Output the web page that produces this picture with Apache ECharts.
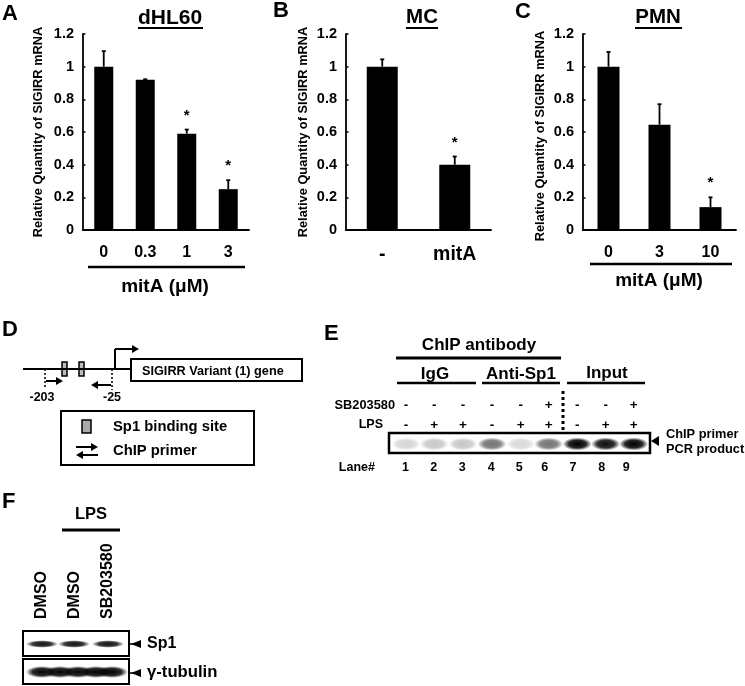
<!DOCTYPE html>
<html>
<head>
<meta charset="utf-8">
<style>html,body{margin:0;padding:0;background:#fff}#c{width:745px;height:686px}</style>
<script src="https://cdn.jsdelivr.net/npm/echarts@6/dist/echarts.min.js"></script>
</head>
<body>
<div id="c"></div>
<script>
// ---- chart values ----
const catsA = ['0', '0.3', '1', '3'];
const valsA = [1.0, 0.92, 0.59, 0.25];
const errsA = [0.095, 0.003, 0.025, 0.055];
const starsA = [0, 0, 1, 1];

const catsB = ['-', 'mitA'];
const valsB = [1.0, 0.4];
const errsB = [0.045, 0.05];
const starsB = [0, 1];

const catsC = ['0', '3', '10'];
const valsC = [1.0, 0.645, 0.14];
const errsC = [0.09, 0.125, 0.06];
const starsC = [0, 0, 1];

const yTicks = [0, 0.2, 0.4, 0.6, 0.8, 1, 1.2];
const yName = 'Relative Quantity of SIGIRR mRNA';

// ---- gel panel content ----
const sbSigns = ['-', '-', '-', '-', '-', '+', '-', '-', '+'];
const lpsSigns = ['-', '+', '+', '-', '+', '+', '-', '+', '+'];
const laneNames = ['1', '2', '3', '4', '5', '6', '7', '8', '9'];
const gelStrength = [0.16, 0.22, 0.22, 0.55, 0.15, 0.55, 1, 0.95, 1];
const blotLabels = ['DMSO', 'DMSO', 'SB203580'];

const FF = '"Liberation Sans", Arial, sans-serif';
const panels = [
  {cats: catsA, vals: valsA, errs: errsA, stars: starsA, left: 83, right: 249, gap: 38, lab: 16, bw: 19, pad: [0, 0, 0, 0]},
  {cats: catsB, vals: valsB, errs: errsB, stars: starsB, left: 346, right: 491, gap: 36, lab: 19.5, bw: 31, pad: [0, 0, 0, 0]},
  {cats: catsC, vals: valsC, errs: errsC, stars: starsC, left: 583, right: 736, gap: 36, lab: 16, bw: 22, pad: [0, 8, 0, 0]}
];

const grid = [], xAxis = [], yAxis = [], series = [];
panels.forEach((p, i) => {
  grid.push({left: p.left, width: p.right - p.left, top: 34, height: 196});
  xAxis.push({
    type: 'category', gridIndex: i, data: p.cats,
    axisLine: {lineStyle: {color: '#000', width: 1.8}},
    axisTick: {inside: true, length: 3, lineStyle: {color: '#000', width: 1.5}},
    axisLabel: {color: '#000', fontFamily: FF, fontWeight: 'bold', fontSize: p.lab, margin: 15, interval: 0}
  });
  yAxis.push({
    type: 'value', gridIndex: i, min: 0, max: 1.2, interval: 0.2,
    name: yName, nameLocation: 'middle', nameRotate: 90, nameGap: p.gap,
    nameTextStyle: {color: '#000', fontFamily: FF, fontWeight: 'bold', fontSize: 12.8, padding: p.pad},
    axisLine: {show: true, lineStyle: {color: '#000', width: 1.8}},
    axisTick: {show: true, inside: true, length: 2.5, lineStyle: {color: '#000', width: 1.5}},
    axisLabel: {color: '#000', fontFamily: FF, fontWeight: 'bold', fontSize: 14.5, margin: 9},
    splitLine: {show: false}
  });
  series.push({
    type: 'bar', xAxisIndex: i, yAxisIndex: i, data: p.vals, barWidth: p.bw,
    itemStyle: {color: '#000'}, silent: true, animation: false
  });
  series.push({
    type: 'custom', xAxisIndex: i, yAxisIndex: i, silent: true, animation: false,
    data: p.vals.map((v, k) => [k, v, p.errs[k], p.stars[k]]),
    encode: {x: 0, y: 1},
    renderItem: (params, api) => {
      const base = api.coord([api.value(0), api.value(1)]);
      const top = api.coord([api.value(0), api.value(1) + api.value(2)]);
      const children = [
        {type: 'line', shape: {x1: base[0], y1: base[1], x2: top[0], y2: top[1]}, style: {stroke: '#000', lineWidth: 1.8}},
        {type: 'line', shape: {x1: top[0] - 2, y1: top[1], x2: top[0] + 2, y2: top[1]}, style: {stroke: '#000', lineWidth: 1.8}}
      ];
      if (api.value(3)) {
        children.push({type: 'text', x: top[0], y: top[1] - 14,
          style: {text: '*', font: 'bold 15px ' + FF, align: 'center', verticalAlign: 'middle', fill: '#000'}});
      }
      return {type: 'group', children};
    }
  });
});

// ---- annotation helpers ----
const G = [];
function T(text, x, y, size, align, rot) {
  G.push({type: 'text', x, y, rotation: rot || 0, z: 10,
    style: {text, font: 'bold ' + size + 'px ' + FF, align: align || 'center', verticalAlign: 'middle', fill: '#000'}});
}
function L(x1, y1, x2, y2, w, dash) {
  G.push({type: 'line', z: 5, shape: {x1, y1, x2, y2}, style: {stroke: '#000', lineWidth: w || 1.5, lineDash: dash || null}});
}
function R(x, y, w, h, lw, fill) {
  G.push({type: 'rect', z: 4, shape: {x, y, width: w, height: h}, style: {stroke: '#000', lineWidth: lw, fill: fill || '#fff'}});
}
function Tri(p) { G.push({type: 'polygon', z: 6, shape: {points: p}, style: {fill: '#000'}}); }
function arrow(x1, x2, y, w) {
  const d = x2 > x1 ? 1 : -1;
  L(x1, y, x2 - d * 5, y, w || 2);
  Tri([[x2, y], [x2 - d * 7, y - 4], [x2 - d * 7, y + 4]]);
}
function band(cx, cy, rx, ry, dark) {
  const c = Math.round(255 * (1 - dark));
  G.push({type: 'circle', z: 5, x: cx, y: cy, scaleX: rx / ry, shape: {cx: 0, cy: 0, r: ry}, silent: true, style: {
    fill: new echarts.graphic.RadialGradient(0.5, 0.5, 0.5, [
      {offset: 0, color: `rgb(${c},${c},${c})`},
      {offset: 0.6, color: `rgba(${c},${c},${c},0.85)`},
      {offset: 1, color: `rgba(${c},${c},${c},0)`}
    ])}});
}

// panel letters
T('A', 2, 14, 22, 'left'); T('B', 273, 11, 22, 'left'); T('C', 515, 12, 22, 'left');
T('D', 2, 330, 22, 'left'); T('E', 324, 334, 22, 'left'); T('F', 2, 502, 22, 'left');

// bar panel titles
T('dHL60', 170, 18, 21); L(138, 28, 203, 28, 2);
T('MC', 422, 17, 20.5); L(406, 28, 438, 28, 2);
T('PMN', 658, 17, 20.5); L(635, 28, 682, 28, 2);
L(88, 267, 245, 267, 2.5); T('mitA (μM)', 165, 287, 19);
L(590, 264, 732, 264, 2.5); T('mitA (μM)', 659, 281, 19);

// D: gene diagram
L(23, 369, 131, 369, 2);
R(131, 359, 171, 22, 2);
T('SIGIRR Variant (1) gene', 142, 371, 12.7, 'left');
R(62, 362, 5, 14, 1.5, '#bbb'); R(79, 362, 5, 14, 1.5, '#bbb');
L(115, 369, 115, 349, 2); arrow(115, 139, 349, 2);
L(45, 369, 45, 388, 1.5, [2, 2]); L(112, 369, 112, 390, 1.5, [2, 2]);
arrow(46, 63, 381); arrow(111, 91, 385);
T('-203', 42, 398, 12.5); T('-25', 112, 398, 12.5);
R(61, 411, 193, 54, 2);
R(82, 420, 9, 13, 1.5, '#aaa');
T('Sp1 binding site', 113, 427, 14.8, 'left');
T('ChIP primer', 113, 451, 14.8, 'left');
arrow(76, 98, 447); arrow(98, 76, 455);

// E: ChIP gel
T('ChIP antibody', 479, 345, 17); L(396, 358, 561, 358, 3);
T('IgG', 435, 374, 17); L(397, 383, 476, 383, 2.5);
T('Anti-Sp1', 521, 374, 17); L(482, 383, 560, 383, 2.5);
T('Input', 607, 373, 17); L(567, 383, 645, 383, 2.5);
L(563, 391, 563, 433, 3, [3, 3]);
T('SB203580', 395, 405, 12.8, 'right');
T('LPS', 383, 425, 12.5, 'right');
T('Lane#', 375, 468, 12.5, 'right');
const laneX = [406, 434.3, 463, 492, 520.7, 548.7, 577.3, 605.7, 633.7];
const laneNumX = [405.5, 433.7, 462.3, 491.3, 519.3, 544.7, 573, 601.7, 626.3];
R(389, 433, 261, 20, 2.5);
laneX.forEach((x, i) => {
  T(sbSigns[i], x, 405, 13.5);
  T(lpsSigns[i], x, 425, 13.5);
  T(laneNames[i], laneNumX[i], 468, 12.5);
  band(x, 444, 14.5, 6.5, gelStrength[i]);
});
Tri([[651, 441], [659, 436], [659, 446]]);
T('ChIP primer', 666, 434, 12.8, 'left');
T('PCR product', 666, 449, 12.8, 'left');

// F: western blot
T('LPS', 91, 514, 16.5); L(62, 530, 120, 530, 3);
[42, 75, 108].forEach((x, i) => T(blotLabels[i], x, 619, 16, 'left', Math.PI / 2));
R(23, 631, 106, 25, 2); R(23, 659, 106, 25, 2);
[42, 74, 108].forEach(x => band(x, 644, 16, 3.8, 0.92));
[42, 60, 78, 96, 112].forEach(x => band(x, 672, 16, 6, 0.98));
[644, 673].forEach(y => {
  L(129, y, 134, y, 1.5);
  Tri([[131, y], [141, y - 4], [141, y + 4]]);
});
T('Sp1', 147, 644, 16, 'left');
T('γ-tubulin', 147, 672, 16.7, 'left');

const chart = echarts.init(document.getElementById('c'), null, {renderer: 'canvas'});
chart.setOption({
  backgroundColor: '#fff', animation: false,
  grid, xAxis, yAxis, series, graphic: {elements: G}
});
</script>
</body>
</html>
